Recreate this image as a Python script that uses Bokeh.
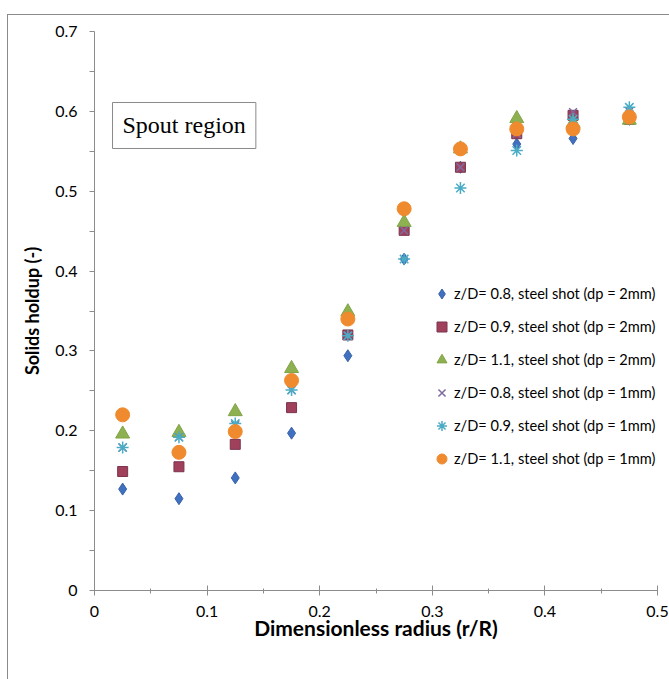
from bokeh.plotting import figure
from bokeh.models import Legend, LegendItem, Label, FixedTicker, Range1d
from bokeh.embed import file_html
from bokeh.resources import INLINE

# ---- data ----
r_R = [0.025, 0.075, 0.125, 0.175, 0.225, 0.275, 0.325, 0.375, 0.425, 0.475]
s_08_2mm = [0.127, 0.115, 0.141, 0.197, 0.294, 0.415, 0.530, 0.559, 0.566, 0.590]
s_09_2mm = [0.149, 0.155, 0.183, 0.229, 0.320, 0.451, 0.530, 0.572, 0.595, 0.590]
s_11_2mm = [0.196, 0.198, 0.224, 0.278, 0.349, 0.461, 0.553, 0.591, 0.585, 0.589]
s_08_1mm = [0.179, 0.192, 0.207, 0.251, 0.319, 0.451, 0.530, 0.572, 0.599, 0.600]
s_09_1mm = [0.179, 0.192, 0.209, 0.251, 0.319, 0.415, 0.504, 0.551, 0.590, 0.605]
s_11_1mm = [0.220, 0.173, 0.199, 0.263, 0.340, 0.478, 0.553, 0.578, 0.578, 0.593]

labels = [
    "z/D= 0.8, steel shot (dp = 2mm)",
    "z/D= 0.9, steel shot (dp = 2mm)",
    "z/D= 1.1, steel shot (dp = 2mm)",
    "z/D= 0.8, steel shot (dp = 1mm)",
    "z/D= 0.9, steel shot (dp = 1mm)",
    "z/D= 1.1, steel shot (dp = 1mm)",
]
x_ticks = [0, 0.1, 0.2, 0.3, 0.4, 0.5]
y_ticks = [0, 0.1, 0.2, 0.3, 0.4, 0.5, 0.6, 0.7]

FONT = "Lato"

p = figure(
    frame_width=563, frame_height=559,
    min_border_left=86, min_border_right=12, min_border_top=16, min_border_bottom=89,
    x_range=Range1d(0, 0.5), y_range=Range1d(0, 0.7),
    output_backend="svg", toolbar_location=None,
    background_fill_color="white", border_fill_color="white",
)
# outer chart-area border (its top and left edges are visible in the crop)
p.styles = {"margin-top": "14px", "margin-left": "7px",
            "border-top": "1px solid #8a8a8a", "border-left": "1px solid #8a8a8a"}
p.outline_line_color = None
p.xgrid.visible = False
p.ygrid.visible = False

# axes
for ax in (p.xaxis[0], p.yaxis[0]):
    ax.axis_line_color = "#8c8c8c"
    ax.major_tick_line_color = "#8c8c8c"
    ax.minor_tick_line_color = "#8c8c8c"
    ax.major_label_text_font = FONT
    ax.major_label_text_font_size = "16px"
    ax.major_label_text_color = "black"
    ax.axis_label_text_font = FONT
    ax.axis_label_text_font_style = "bold"
    ax.axis_label_text_color = "black"

p.xaxis.ticker = FixedTicker(ticks=x_ticks, minor_ticks=[0.05, 0.15, 0.25, 0.35, 0.45])
p.yaxis.ticker = FixedTicker(ticks=y_ticks, minor_ticks=[0.05, 0.15, 0.25, 0.35, 0.45, 0.55, 0.65])
p.xaxis.major_label_overrides = {0: "0"}
p.yaxis.major_label_overrides = {0: "0"}

p.xaxis.major_tick_in = 5
p.xaxis.major_tick_out = 5
p.xaxis.minor_tick_in = 2
p.xaxis.minor_tick_out = 3
p.xaxis.major_label_standoff = 10
p.xaxis.axis_label = "Dimensionless radius (r/R)"
p.xaxis.axis_label_text_font_size = "21px"
p.xaxis.axis_label_standoff = -5

p.yaxis.major_tick_in = 0
p.yaxis.major_tick_out = 5
p.yaxis.minor_tick_in = 0
p.yaxis.minor_tick_out = 5
p.yaxis.major_label_standoff = 12
p.yaxis.axis_label = "Solids holdup (-)"
p.yaxis.axis_label_text_font_size = "18px"
p.yaxis.axis_label_standoff = 9

# series
r1 = p.scatter(r_R, s_08_2mm, marker="diamond", size=12, fill_color="#4070C0", line_color="#3A62A8")
r2 = p.scatter(r_R, s_09_2mm, marker="square", size=10, fill_color="#A0405A", line_color="#7A3550")
r3 = p.scatter(r_R, s_11_2mm, marker="triangle", size=14, fill_color="#8DB050", line_color="#82A448")
r4 = p.scatter(r_R, s_08_1mm, marker="x", size=11, fill_color=None, line_color="#7E6AA0", line_width=1.5)
r5 = p.scatter(r_R, s_09_1mm, marker="asterisk", size=12, fill_color=None, line_color="#4BACC6", line_width=1.5)
r6 = p.scatter(r_R, s_11_1mm, marker="circle", size=14, fill_color="#F08A2E", line_color="#F08A2E")

legend = Legend(
    items=[LegendItem(label=lab, renderers=[r]) for lab, r in zip(labels, [r1, r2, r3, r4, r5, r6])],
    location=(335, 119),
    border_line_color=None, background_fill_alpha=0,
    label_text_font=FONT, label_text_font_size="14.6px", label_text_color="black",
    glyph_width=25, glyph_height=25, label_height=25, spacing=8,
    label_standoff=-12, padding=0, margin=0,
)
p.add_layout(legend, "center")

spout = Label(
    x=0.016, y=0.5535, text="Spout region",
    text_font="Liberation Serif", text_font_size="24px", text_color="black",
    border_line_color="#8a8a8a", background_fill_color="white",
    padding=10,
)
p.add_layout(spout)

open("out.html", "w").write(file_html(p, INLINE))
